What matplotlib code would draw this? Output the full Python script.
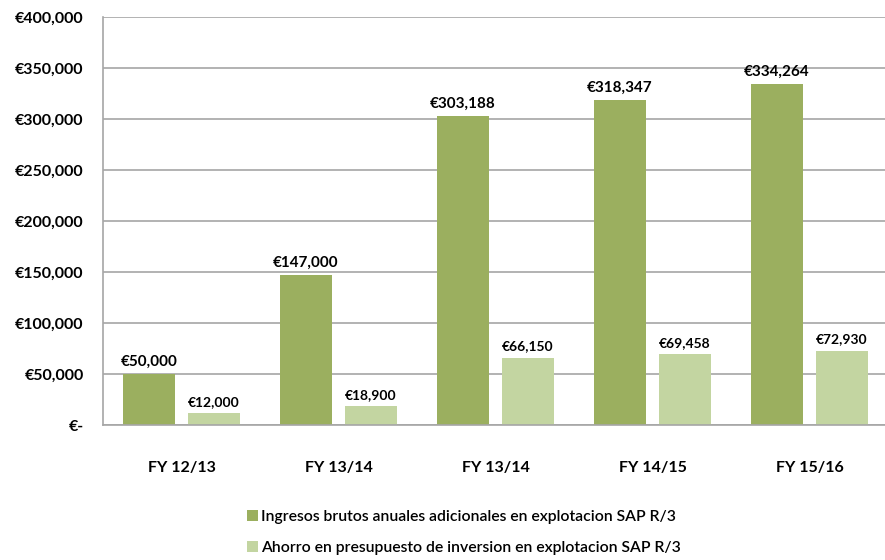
import numpy as np
import matplotlib.pyplot as plt
from matplotlib import font_manager
from matplotlib.ticker import FuncFormatter

categories = ["FY 12/13", "FY 13/14", "FY 13/14", "FY 14/15", "FY 15/16"]
ingresos = [50000, 147000, 303188, 318347, 334264]
ahorro = [12000, 18900, 66150, 69458, 72930]
series_names = ["Ingresos brutos anuales adicionales en explotacion SAP R/3",
                "Ahorro en presupuesto de inversion en explotacion SAP R/3"]

names = {f.name for f in font_manager.fontManager.ttflist}
fam = "Liberation Sans Narrow" if "Liberation Sans Narrow" in names else "Lato"
plt.rcParams['font.family'] = [fam, 'DejaVu Sans']

c_dark = "#9BAF5F"
c_light = "#C3D5A1"

fig = plt.figure(figsize=(8.85, 5.6), dpi=100)
ax = fig.add_axes([0.1164, 0.241, 0.887, 0.7286])

x = np.arange(len(categories))
w = 0.33
off = 0.207
b1 = ax.bar(x - off, ingresos, w, color=c_dark, label=series_names[0], zorder=2)
b2 = ax.bar(x + off, ahorro, w, color=c_light, label=series_names[1], zorder=2)

for rect, v in zip(b1, ingresos):
    ax.text(rect.get_x() + rect.get_width() / 2, v + 5000, "€{:,}".format(v),
            ha="center", va="bottom", fontsize=11, fontweight="bold")
for rect, v in zip(b2, ahorro):
    ax.text(rect.get_x() + rect.get_width() / 2, v + 5000, "€{:,}".format(v),
            ha="center", va="bottom", fontsize=10, fontweight="bold")

ax.set_xlim(-0.5, 4.5)
ax.set_ylim(0, 400000)
ax.set_yticks(np.arange(0, 400001, 50000))
ax.yaxis.set_major_formatter(FuncFormatter(lambda v, p: "€-" if v == 0 else "€{:,.0f}".format(v)))
ax.set_xticks(x)
ax.set_xticklabels(categories)
ax.tick_params(axis="both", length=0, labelsize=11.5)
ax.tick_params(axis="x", pad=26)
ax.tick_params(axis="y", pad=14)
for lab in ax.get_xticklabels() + ax.get_yticklabels():
    lab.set_fontweight("bold")

ax.grid(axis="y", color="#A6A6A6", linewidth=1.2, zorder=0)
for s in ["top", "right"]:
    ax.spines[s].set_visible(False)
for s in ["left", "bottom"]:
    ax.spines[s].set_color("#A6A6A6")
    ax.spines[s].set_linewidth(1.2)

leg = fig.legend(loc="upper left", bbox_to_anchor=(0.279, 0.089), ncol=1, frameon=False,
                 prop={"size": 11.3, "weight": "semibold"},
                 handlelength=0.7, handleheight=0.7, handletextpad=0.2,
                 labelspacing=1.05, borderaxespad=0, borderpad=0)

fig.savefig("out.png", dpi=100)
